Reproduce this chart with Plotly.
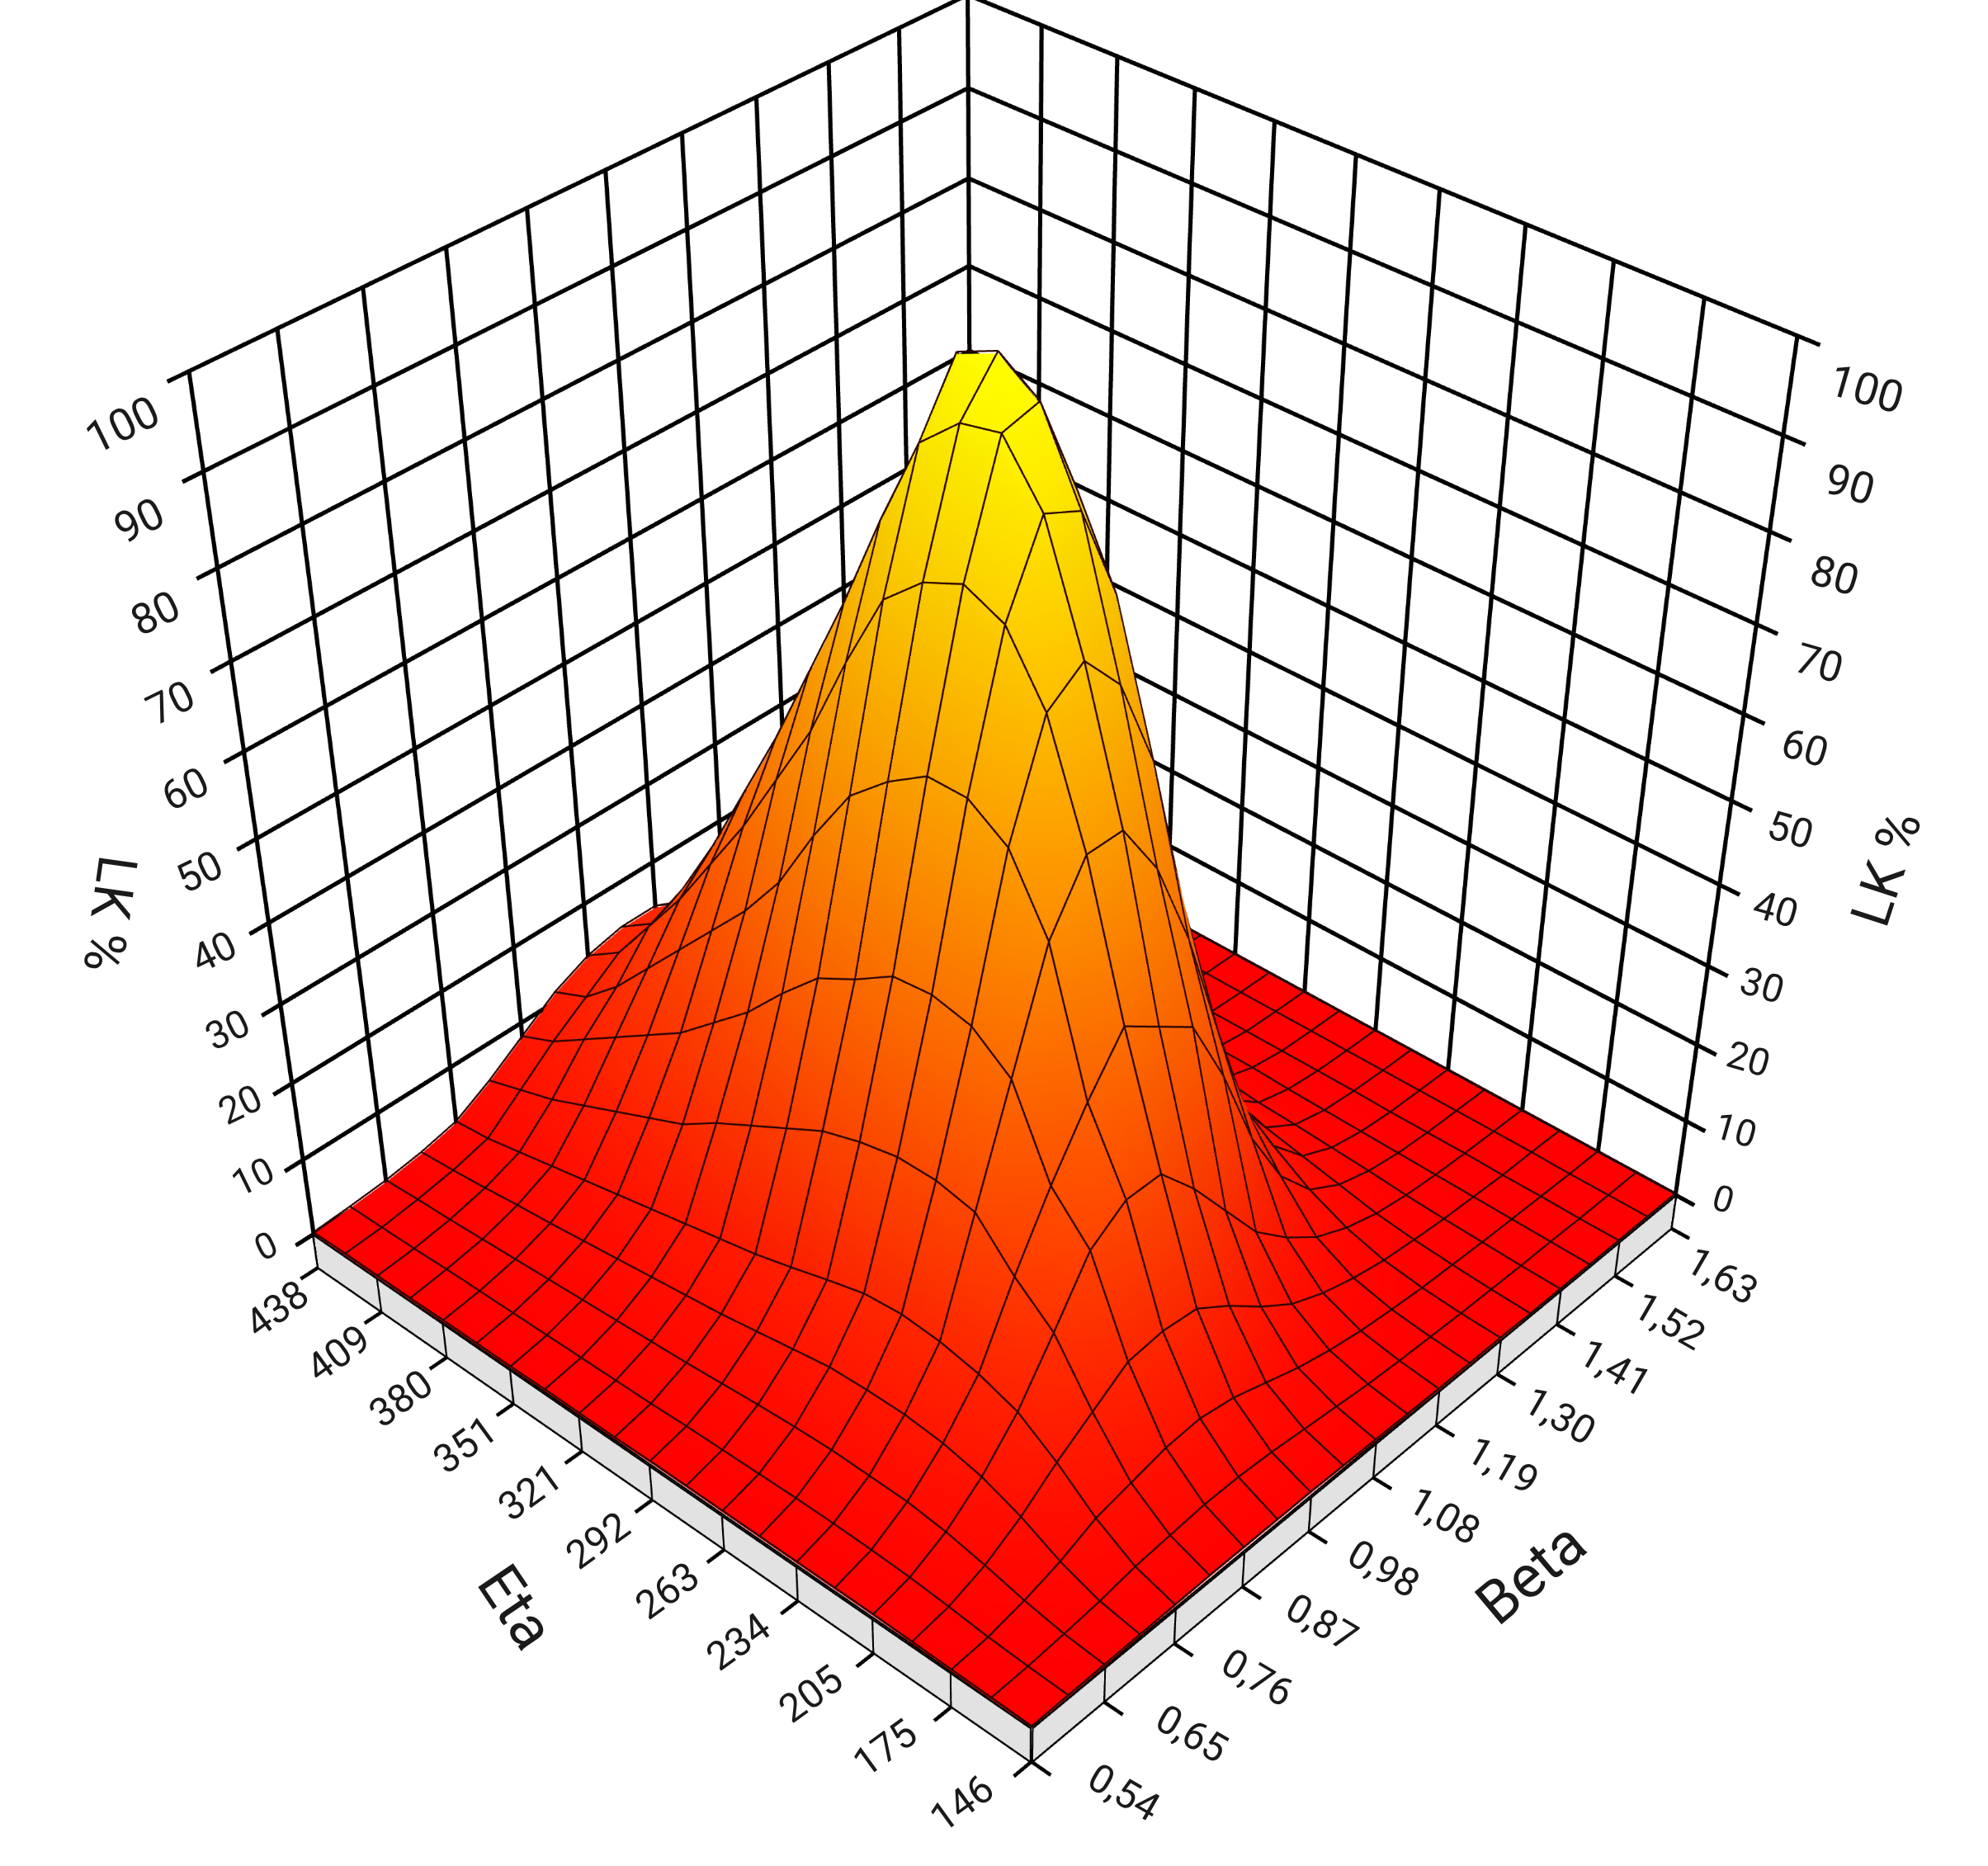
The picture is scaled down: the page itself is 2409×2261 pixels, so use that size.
import plotly.graph_objects as go

# ---------- data ----------
beta_grid = [0.54,0.5945,0.649,0.7035,0.758,0.8125,0.867,0.9215,0.976,1.0305,1.085,1.1395,1.194,1.2485,1.303,1.3575,1.412,1.4665,1.521,1.5755,1.63]
eta_grid = [146,160.6,175.2,189.8,204.4,219,233.6,248.2,262.8,277.4,292,306.6,321.2,335.8,350.4,365,379.6,394.2,408.8,423.4,438]
beta_labels = ["0,54","0,65","0,76","0,87","0,98","1,08","1,19","1,30","1,41","1,52","1,63"]
eta_labels = ["146","175","205","234","263","292","321","351","380","409","438"]
z_ticks = [0,10,20,30,40,50,60,70,80,90,100]

# LK % : one row per Eta value, one column per Beta value
lk = [
[0,0.1,0.2,0.3,0.4,0.5,0.5,0.5,0.5,0.4,0.3,0.2,0.1,0.1,0.1,0,0,0,0,0,0],
[0.1,0.3,0.7,1.2,2,2.4,2.8,2.8,2.5,2,1.5,1,0.7,0.5,0.3,0.2,0.1,0.1,0,0,0],
[0.2,0.6,1.6,3,5,6,7,7.3,6.5,5,3.5,2.4,1.6,1.1,0.7,0.5,0.3,0.2,0.1,0,0],
[0.3,1.1,2.8,5.5,9,12,15,15.5,15,12,8.5,5.5,3.6,2.3,1.4,0.9,0.5,0.3,0.1,0.1,0],
[0.4,1.5,3.8,7.4,12.3,19,26,29,29,24,18,12,8,4.8,2.8,1.5,0.8,0.4,0.2,0.1,0],
[0.4,1.7,4.4,8.5,14,23,31,38,44,41,38,29,18,10,5,2.5,1.2,0.5,0.2,0.1,0],
[0.4,1.8,4.5,9,15,28,41,54,61,61,54,43,29,16,8,3.5,1.5,0.6,0.2,0.1,0],
[0.4,1.8,4.6,9,15.4,29,44.5,62,74,77,72,61,42,24,11,4.5,1.8,0.7,0.3,0.1,0],
[0.4,1.7,4.4,8.8,15,29,45.5,65,81,90,88,77,55,31,14,5.5,2,0.8,0.3,0.1,0],
[0.4,1.6,4.1,8,13.7,28,45,65,83,96,97,86,64,38,18,7,2.5,1,0.3,0.1,0],
[0.4,1.5,3.7,7.2,12.3,26.5,42,62,81,95,100,93,72,45,22,9,3,1,0.3,0.1,0],
[0.3,1.3,3.3,6.4,11,24,39.5,58,77,91,98,91,70,43,20,8,3,1,0.3,0.1,0],
[0.3,1.2,3,5.8,10,21.5,35,51,68,81,86,79,60,38,18,7,2.5,0.9,0.3,0.1,0],
[0.3,1.1,2.7,5.2,9,19,30,43,58,70,73,66,49,30,15,6,2.2,0.8,0.3,0.1,0],
[0.2,1,2.4,4.6,8,16,26,37,50,60,61,54,40,25,12,5,2,0.7,0.2,0.1,0],
[0.2,0.9,2.1,4,7,14,22,32,42,50,50,44,32,20,10,4,1.6,0.6,0.2,0.1,0],
[0.2,0.8,1.8,3.4,6,12,19,27,35,41,41,35,25,15,7.5,3,1.3,0.5,0.2,0.1,0],
[0.1,0.7,1.5,2.9,5,10,16,22,28,32,32,27,19,11,5.5,2.4,1,0.4,0.2,0.1,0],
[0.1,0.5,1.2,2.3,4,8,13,17,22,24,24,20,14,8,4,1.8,0.8,0.3,0.1,0.1,0],
[0.1,0.4,1,1.8,3,6.5,10,13,16,17,17,14,9.5,6,3,1.4,0.6,0.3,0.1,0,0],
[0,0.3,0.7,1.4,2.5,5,8,11,13,14,14,12,8,5,2.5,1.2,0.5,0.2,0.1,0,0],
]

# ---------- derived from the arrays ----------
beta_ticks = beta_grid[::2]
eta_ticks = eta_grid[::2]
b0, b1 = beta_grid[0], beta_grid[-1]
e0, e1 = eta_grid[0], eta_grid[-1]
bspan, espan = b1 - b0, e1 - e0
SLAB = -4.6
TB, TE = 0.024 * bspan, 0.024 * espan
ZR = 1.01   # height of 100 z units against the floor side
LIFT = 0.25  # keeps the mesh lines just above the surface


def lines3d(segs, width, color="black"):
    xs, ys, zs = [], [], []
    for a, c in segs:
        xs += [a[0], c[0], None]
        ys += [a[1], c[1], None]
        zs += [a[2], c[2], None]
    return go.Scatter3d(x=xs, y=ys, z=zs, mode="lines", line=dict(color=color, width=width),
                        hoverinfo="skip", showlegend=False)


fig = go.Figure()

# surface
fig.add_trace(go.Surface(
    x=beta_grid, y=eta_grid, z=lk, cmin=0, cmax=100, showscale=False, hoverinfo="skip",
    colorscale=[[0, "#ff0000"], [0.5, "#ff8000"], [1, "#ffff00"]],
    lighting=dict(ambient=0.95, diffuse=0.07, specular=0.0, roughness=0.9, fresnel=0.0),
    lightposition=dict(x=-3000, y=-3000, z=4000),
))

# mesh lines of the surface
mesh = []
for r, e in enumerate(eta_grid):
    for c in range(len(beta_grid) - 1):
        mesh.append(((beta_grid[c], e, lk[r][c] + LIFT), (beta_grid[c + 1], e, lk[r][c + 1] + LIFT)))
for c, b in enumerate(beta_grid):
    for r in range(len(eta_grid) - 1):
        mesh.append(((b, eta_grid[r], lk[r][c] + LIFT), (b, eta_grid[r + 1], lk[r + 1][c] + LIFT)))
fig.add_trace(lines3d(mesh, 3, "#2a0500"))

# base slab: the two faces that can be seen
fig.add_trace(go.Mesh3d(
    x=[b0, b1, b1, b0, b0, b0, b0, b0],
    y=[e0, e0, e0, e0, e0, e1, e1, e0],
    z=[0, 0, SLAB, SLAB, 0, 0, SLAB, SLAB],
    i=[0, 0, 4, 4], j=[1, 2, 5, 6], k=[2, 3, 6, 7],
    color="#e2e2e2", flatshading=True, hoverinfo="skip", showlegend=False,
    lighting=dict(ambient=1, diffuse=0, specular=0, roughness=1, fresnel=0),
))

# walls
wall = []
for b in beta_ticks:
    wall.append(((b, e1, 0), (b, e1, 100)))
for e in eta_ticks:
    wall.append(((b1, e, 0), (b1, e, 100)))
for z in z_ticks:
    wall.append(((b0 - TB, e1, z), (b1, e1, z)))
    wall.append(((b1, e1, z), (b1, e0 - TE, z)))
fig.add_trace(lines3d(wall, 7))

# slab outline and ticks
slab = [((b0, e0, SLAB), (b0, e1, SLAB)), ((b0, e0, SLAB), (b1, e0, SLAB)),
        ((b0, e0, 0), (b0, e1, 0)), ((b0, e0, 0), (b1, e0, 0))]
for e in eta_ticks:
    slab.append(((b0, e, SLAB), (b0, e, 0)))
    slab.append(((b0, e, SLAB), (b0 - TB, e, SLAB)))
for b in beta_ticks:
    slab.append(((b, e0, SLAB), (b, e0, 0)))
    slab.append(((b, e0, SLAB), (b, e0 - TE, SLAB)))
fig.add_trace(lines3d(slab, 6))

# text
FONT = "Roboto"
ann = []


def label(x, y, z, text, angle, size, dx, dy):
    ann.append(dict(x=x, y=y, z=z, text=text, textangle=angle, showarrow=False, xshift=dx, yshift=-dy,
                    xanchor="center", yanchor="middle",
                    font=dict(family=FONT, size=size, color="#1a1a1a")))


for i, (e, t) in enumerate(zip(eta_ticks, eta_labels)):
    label(b0, e, SLAB, t, -36, 48, -50 - 34 * (10 - i) / 10, 50)
for i, (b, t) in enumerate(zip(beta_ticks, beta_labels)):
    label(b, e0, SLAB, t, 30, 48, 62 + 50 * (10 - i) / 10, 57 - 20 * (10 - i) / 10)
for z in z_ticks:
    k = z / 100
    size = 44 + 10 * k
    label(b0, e1, z, str(z), -26, size, -58 - 22 * k, 15 + 50 * k)
    label(b1, e0, z, str(z), 16, size, 58 + 26 * k, 5 + 60 * k)
label(b0, e1, 45, "LK %", 98, 66, -185, 40)
label(b1, e0, 45, "LK %", -72, 66, 195, 31)
label(b0, 292, SLAB, "Eta", 56, 72, -166, 131)
label(0.976, e0, SLAB, "Beta", -40, 72, 270, 51)

off = dict(visible=False, showspikes=False)
PAD = 0.04
fig.update_layout(
    width=4225, height=4225, margin=dict(l=0, r=0, t=0, b=0), paper_bgcolor="white",
    scene=dict(
        domain=dict(x=[0, 1], y=[0, 1]),
        xaxis=dict(range=[b0 - PAD * bspan, b1 + PAD * bspan], **off),
        yaxis=dict(range=[e0 - PAD * espan, e1 + PAD * espan], **off),
        zaxis=dict(range=[-6, 101], **off),
        aspectmode="manual",
        aspectratio=dict(x=1 + 2 * PAD, y=1 + 2 * PAD, z=ZR * 107 / 100),
        camera=dict(
            center=dict(x=0, y=0, z=-47.5 * ZR / 100),
            eye=dict(x=-2.41, y=-2.21, z=2.894 - 47.5 * ZR / 100),
            up=dict(x=0, y=0, z=1),
        ),
        annotations=ann,
    ),
)

# The long lens of the reference needs a canvas taller than the window, centred on the floor
post = """
var gd=document.getElementById('{plot_id}');
document.documentElement.style.overflow='hidden';document.body.style.overflow='hidden';document.body.style.margin='0';
gd.style.position='absolute';gd.style.left='-903px';gd.style.top='-641px';
"""
fig.write_html("out.html", post_script=post, config=dict(displayModeBar=False))
